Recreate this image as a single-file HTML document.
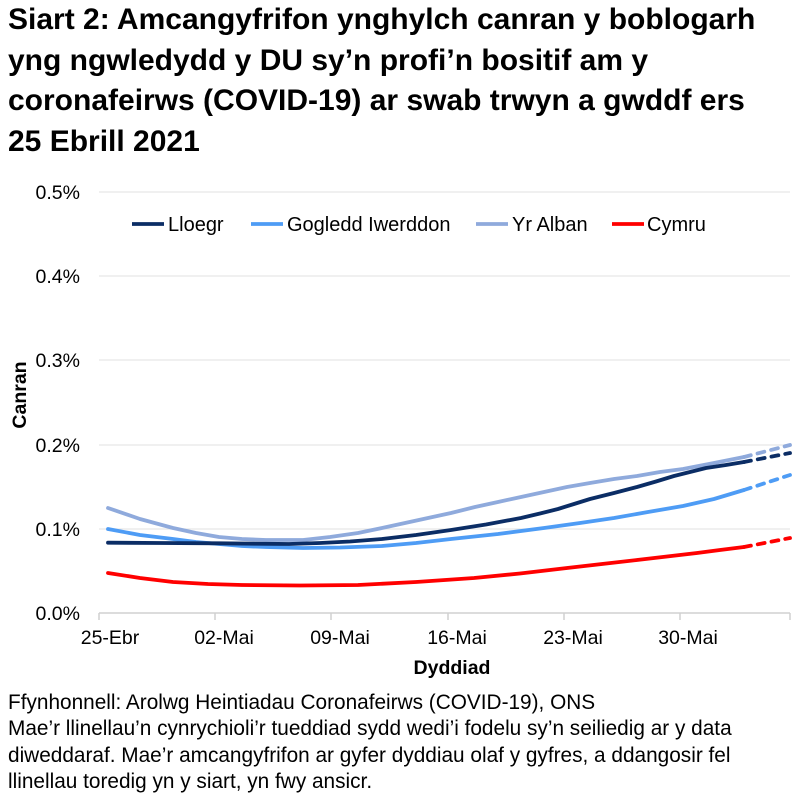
<!DOCTYPE html><html><head><style>body{margin:0;background:#fff;font-family:"Liberation Sans",Arial,sans-serif;width:797px;height:805px;overflow:hidden;position:relative}
h1{position:absolute;left:8px;top:0px;margin:0;font-size:30px;line-height:40.5px;font-weight:bold;color:#000;width:770px}
.f{position:absolute;left:8px;font-size:20.8px;line-height:26.5px;color:#000}</style></head><body>
<h1>Siart 2: Amcangyfrifon ynghylch canran y boblogarh yng ngwledydd y DU sy’n profi’n bositif am y coronafeirws (COVID-19) ar swab trwyn a gwddf ers 25 Ebrill 2021</h1>
<svg width="797" height="805" style="position:absolute;left:0;top:0" font-family="Liberation Sans, Arial, sans-serif">
<g stroke="#e6e6e6" stroke-width="1.3"><line x1="99" x2="790" y1="192" y2="192"/><line x1="99" x2="790" y1="276" y2="276"/><line x1="99" x2="790" y1="360" y2="360"/><line x1="99" x2="790" y1="445" y2="445"/><line x1="99" x2="790" y1="529" y2="529"/></g>
<g stroke="#d0d0d0" stroke-width="1.5"><line x1="99" x2="790" y1="613" y2="613"/><line x1="99" x2="99" y1="613" y2="620"/><line x1="215" x2="215" y1="613" y2="620"/><line x1="331" x2="331" y1="613" y2="620"/><line x1="448" x2="448" y1="613" y2="620"/><line x1="564" x2="564" y1="613" y2="620"/><line x1="680" x2="680" y1="613" y2="620"/><line x1="790" x2="790" y1="613" y2="620"/></g>
<g font-size="19.5" text-anchor="end" fill="#000"><text x="80" y="199">0.5%</text><text x="80" y="283">0.4%</text><text x="80" y="367">0.3%</text><text x="80" y="452">0.2%</text><text x="80" y="536">0.1%</text><text x="80" y="620">0.0%</text></g>
<g font-size="19.5" text-anchor="middle"><text x="110" y="644">25-Ebr</text><text x="224" y="644">02-Mai</text><text x="340" y="644">09-Mai</text><text x="457" y="644">16-Mai</text><text x="573" y="644">23-Mai</text><text x="688" y="644">30-Mai</text></g>
<text x="452" y="674" font-size="19.5" font-weight="bold" text-anchor="middle">Dyddiad</text>
<text transform="translate(26,395) rotate(-90)" font-size="19.5" font-weight="bold" text-anchor="middle">Canran</text>
<g stroke-width="3.8" fill="none" stroke-linejoin="round" stroke-linecap="round">
<polyline stroke="#8FAADC" points="108,508 140,519 173,528 196,533 219,537 242,539 266,540 303,540 330,537 358,533 382,528 405,523 428,518 451,513 475,507 498,502 521,497 544,492 567,487 590,483 614,479 637,476 660,472 683,469 714,463 744,457"/>
<polyline stroke="#8FAADC" stroke-dasharray="7,7" points="744,457 790,445"/>
<polyline stroke="#4E9CF5" points="108,529 140,535 173,539 196,542 219,544 242,546 266,547 303,548 340,547.5 382,546 416,543 451,539 498,534 544,528 580,523 614,518 648,512 683,506 714,499 744,490"/>
<polyline stroke="#4E9CF5" stroke-dasharray="7,7" points="744,490 790,475"/>
<polyline stroke="#0B2D65" points="108,542.7 160,543 219,543.3 255,543.7 289,544 320,543 350,541.5 382,539 416,535 451,530 486,524.5 521,518 540,513.5 558,509 574,504 590,499 614,493 637,487 656,481.5 674,476 690,472 706,468 726,465 744,462"/>
<polyline stroke="#0B2D65" stroke-dasharray="7,7" points="744,462 790,453"/>
<polyline stroke="#FF0000" points="108,573 140,578 173,582 208,584 242,585 300,585.5 358,585 416,582 474,578 520,573.5 567,568 602,564 637,560 667,556.5 697,553 720,550 744,547"/>
<polyline stroke="#FF0000" stroke-dasharray="7,7" points="744,547 790,538"/>
</g>
<g stroke-width="3.8"><line x1="132" x2="164" y1="224" y2="224" stroke="#0B2D65"/><line x1="251" x2="283" y1="224" y2="224" stroke="#4E9CF5"/><line x1="476" x2="508" y1="224" y2="224" stroke="#8FAADC"/><line x1="612" x2="644" y1="224" y2="224" stroke="#FF0000"/></g>
<g font-size="20"><text x="168" y="231">Lloegr</text><text x="287" y="231">Gogledd Iwerddon</text><text x="512" y="231">Yr Alban</text><text x="647" y="231">Cymru</text></g>
</svg>
<div class="f" style="top:690px">Ffynhonnell: Arolwg Heintiadau Coronafeirws (COVID-19), ONS</div>
<div class="f" style="top:716px;width:775px">Mae’r llinellau’n cynrychioli’r tueddiad sydd wedi’i fodelu sy’n seiliedig ar y data diweddaraf. Mae’r amcangyfrifon ar gyfer dyddiau olaf y gyfres, a ddangosir fel llinellau toredig yn y siart, yn fwy ansicr.</div>
</body></html>
